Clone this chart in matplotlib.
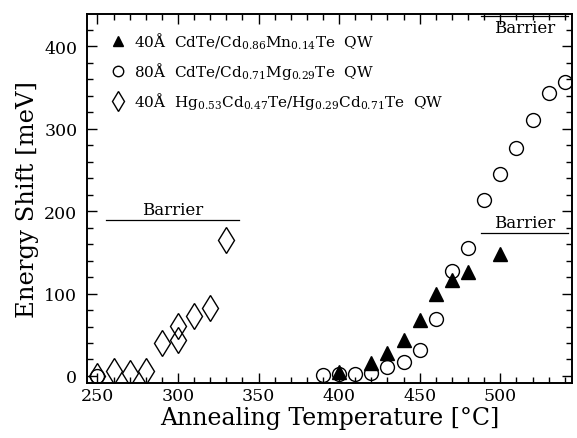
import matplotlib
matplotlib.use("Agg")
import matplotlib.pyplot as plt
from matplotlib.ticker import MultipleLocator

plt.rcParams['font.family'] = ['DejaVu Serif']
plt.rcParams['mathtext.fontset'] = 'dejavuserif'

# --- data ---
mn_T = [400, 420, 430, 440, 450, 460, 470, 480, 500]
mn_E = [5, 16, 28, 44, 68, 99, 117, 126, 148]

mg_T = [250, 390, 400, 410, 420, 430, 440, 450, 460, 470, 480, 490, 500, 510, 520, 530, 540]
mg_E = [0, 1, 2, 3, 4, 11, 17, 32, 69, 127, 155, 214, 245, 276, 311, 343, 356]

hg_T = [250, 260, 270, 280, 290, 300, 300, 310, 320, 330]
hg_E = [0, 6, 4, 6, 40, 44, 61, 73, 83, 165]

labels = [r'40Å  CdTe/Cd$_{0.86}$Mn$_{0.14}$Te  QW',
          r'80Å  CdTe/Cd$_{0.71}$Mg$_{0.29}$Te  QW',
          r'40Å  Hg$_{0.53}$Cd$_{0.47}$Te/Hg$_{0.29}$Cd$_{0.71}$Te  QW']

# barrier levels: (T start, T end, energy, text above?)
barrier_hg = (255, 338, 189, True)
barrier_mn = (488, 542, 173, True)
barrier_mg = (488, 542, 436, False)

fig = plt.figure(figsize=(5.77, 4.39), dpi=100)
ax = fig.add_axes([0.1508, 0.1253, 0.8405, 0.8405])

ax.plot(mn_T, mn_E, linestyle='none', marker='^', markersize=10,
        markerfacecolor='black', markeredgecolor='black', label=labels[0])
ax.plot(mg_T, mg_E, linestyle='none', marker='o', markersize=10,
        markerfacecolor='none', markeredgecolor='black', markeredgewidth=1.0, label=labels[1])
ax.plot(hg_T, hg_E, linestyle='none', marker='d', markersize=13,
        markerfacecolor='none', markeredgecolor='black', markeredgewidth=1.0, label=labels[2])

for (t0, t1, e, above) in (barrier_hg, barrier_mn, barrier_mg):
    ax.plot([t0, t1], [e, e], color='black', linewidth=0.9)
    if above:
        ax.text((t0 + t1) / 2, e + 3, 'Barrier', ha='center', va='bottom', fontsize=12)
    else:
        ax.text((t0 + t1) / 2, e - 3, 'Barrier', ha='center', va='top', fontsize=12)

ax.set_xlim(243.5, 544.5)
ax.set_ylim(-8.5, 439)

ax.xaxis.set_major_locator(MultipleLocator(50))
ax.xaxis.set_minor_locator(MultipleLocator(10))
ax.yaxis.set_major_locator(MultipleLocator(100))
ax.yaxis.set_minor_locator(MultipleLocator(20))
ax.tick_params(which='both', direction='in', top=True, right=True, width=1.0)
ax.tick_params(which='major', length=7, labelsize=12.5)
ax.tick_params(which='minor', length=4)
ax.tick_params(axis='x', which='major', pad=3)
ax.tick_params(axis='y', which='major', pad=7)
for s in ax.spines.values():
    s.set_linewidth(1.4)

ax.set_xlabel('Annealing Temperature [°C]', fontsize=17, labelpad=1)
ax.set_ylabel('Energy Shift [meV]', fontsize=17.5, labelpad=4)

leg = ax.legend(loc='upper left', bbox_to_anchor=(0.049, 0.955), frameon=False,
                fontsize=11, handlelength=0.95, handletextpad=0.55, borderpad=0,
                borderaxespad=0, labelspacing=0.6, markerscale=0.75)

fig.savefig('out.png', dpi=100)
